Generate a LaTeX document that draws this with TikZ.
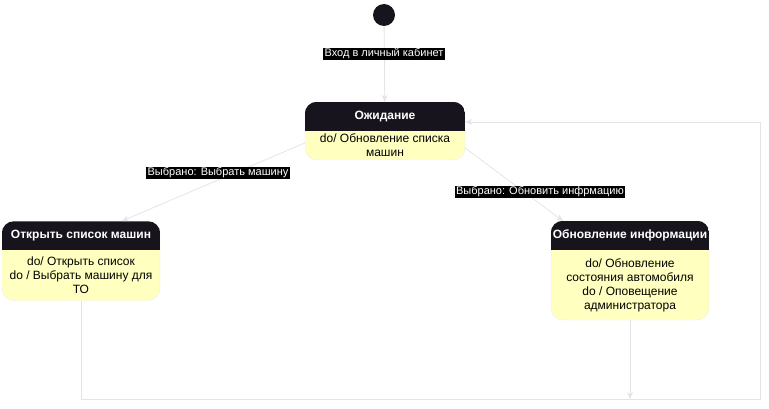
\documentclass[tikz,border=0pt]{standalone}
\usepackage{fontspec}
\setmainfont{Liberation Sans}
\usetikzlibrary{arrows.meta,calc}

\definecolor{hdr}{HTML}{18141D}
\definecolor{bodyfill}{HTML}{FFFFC0}
\definecolor{edge}{HTML}{E4E4E4}
\definecolor{rim}{HTML}{EEEEEE}

\tikzset{
  statebox/.style={draw=rim, fill=bodyfill, rounded corners=12pt, inner sep=0pt},
  titletext/.style={text=white, font=\bfseries\fontsize{12}{14}\selectfont, inner sep=0pt},
  bodytext/.style={align=center, font=\fontsize{12}{14}\selectfont, inner sep=0pt},
  lbl/.style={fill=black, text=white, font=\fontsize{11}{12}\selectfont, inner sep=1.2pt},
  trans/.style={draw=edge, line width=0.8pt, -{Stealth[length=7pt,width=6pt]}},
  link/.style={draw=edge, line width=0.8pt}
}

% name, centre, width, height, title, body
\newcommand{\umlstate}[6]{%
  \node[statebox, minimum width=#3, minimum height=#4] (#1) at #2 {};
  \begin{scope}
    \clip[rounded corners=12pt] (#1.south west) rectangle (#1.north east);
    \fill[hdr] (#1.north west) rectangle ([yshift=-29pt]#1.north east);
  \end{scope}
  \node[titletext] (#1-title) at ([yshift=-14.5pt]#1.north) {#5};
  \node[bodytext] (#1-body) at ($(#1.south)!0.5!([yshift=-29pt]#1.north)$) {#6};
}

\begin{document}
\begin{tikzpicture}[x=1pt,y=-1pt]
\useasboundingbox (0,0) rectangle (769,409);

\node[circle, fill=hdr, minimum size=22pt, inner sep=0pt] (init) at (384,15) {};

\umlstate{wait}{(385,131)}{160pt}{58pt}{Ожидание}{do/ Обновление списка\\машин}
\umlstate{openlist}{(81,261)}{158pt}{79pt}{Открыть список машин}{do/ Открыть список\\do / Выбрать машину для\\ТО}
\umlstate{update}{(630,270.5)}{158pt}{99pt}{Обновление информации}{do/ Обновление\\состояния автомобиля\\do / Оповещение\\администратора}

\coordinate (cornerL) at (81,399);
\coordinate (cornerR) at (760,399);
\coordinate (cornerT) at (760,122);
\coordinate (joinU) at (630,399);

% transitions
\draw[trans] (init) -- (wait);
\draw[trans] ([yshift=-12pt]wait.west) -- (122,221);
\draw[trans] ([yshift=-17pt]wait.east) -- (563,221);
\draw[link] (openlist.south) -- (cornerL) -- (cornerR) -- (cornerT);
\draw[trans] (cornerT) -- ([yshift=9pt]wait.east);
\draw[trans] (update.south) -- (joinU);

% labels
\node[lbl] (lblEnter) at (384,54) {Вход в личный кабинет};
\node[lbl] (lblPick) at (218,173) {Выбрано: Выбрать машину};
\node[lbl] (lblUpd) at (540,192) {Выбрано: Обновить инфрмацию};
\end{tikzpicture}
\end{document}
